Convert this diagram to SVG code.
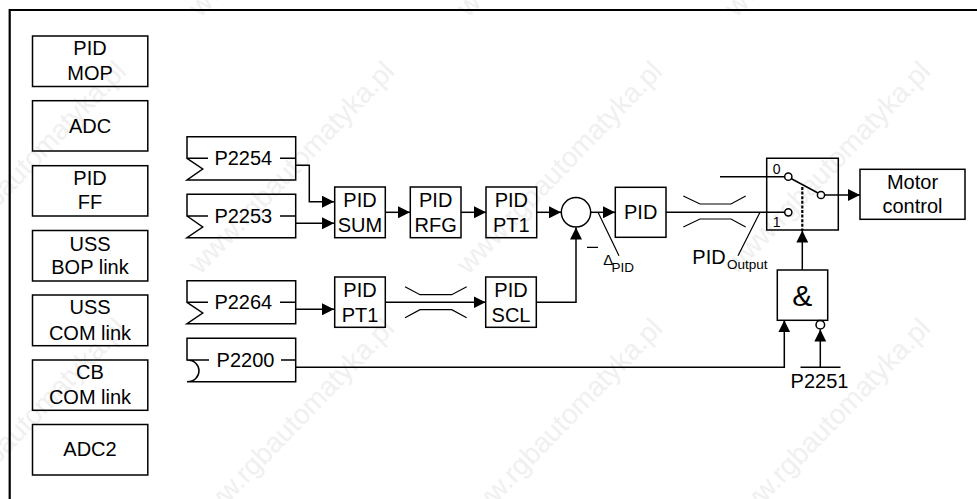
<svg xmlns="http://www.w3.org/2000/svg" width="977" height="499" viewBox="0 0 977 499">
<style>
text{font-family:"Liberation Sans",Arial,sans-serif;font-size:20px;fill:#000;text-anchor:middle}
.s{font-size:13.5px;text-anchor:start}
.n{font-size:14px}
.m{text-anchor:start}
.b{fill:none;stroke:#000;stroke-width:1.5}
.l{fill:none;stroke:#000;stroke-width:1.5}
.t{fill:none;stroke:#000;stroke-width:1.2}
.w{font-size:28px;fill:#f0f0f0}
</style>
<defs>
<marker id="a" markerWidth="13" markerHeight="12" refX="12" refY="6" orient="auto" markerUnits="userSpaceOnUse"><path d="M0 0L12 6L0 12Z" fill="#000"/></marker>
</defs>
<rect width="977" height="499" fill="#fff"/>
<g id="watermark">
<text class="w" transform="translate(30,174) rotate(-46)">www.rgbautomatyka.pl</text>
<text class="w" transform="translate(298,174) rotate(-46)">www.rgbautomatyka.pl</text>
<text class="w" transform="translate(566,174) rotate(-46)">www.rgbautomatyka.pl</text>
<text class="w" transform="translate(834,174) rotate(-46)">www.rgbautomatyka.pl</text>
<text class="w" transform="translate(30,431) rotate(-46)">www.rgbautomatyka.pl</text>
<text class="w" transform="translate(298,431) rotate(-46)">www.rgbautomatyka.pl</text>
<text class="w" transform="translate(566,431) rotate(-46)">www.rgbautomatyka.pl</text>
<text class="w" transform="translate(834,431) rotate(-46)">www.rgbautomatyka.pl</text>
<text class="w" transform="translate(298,-83) rotate(-46)">www.rgbautomatyka.pl</text>
<text class="w" transform="translate(566,-83) rotate(-46)">www.rgbautomatyka.pl</text>
<text class="w" transform="translate(834,-83) rotate(-46)">www.rgbautomatyka.pl</text>
</g>
<path id="frame" d="M9.7 499V10H977" fill="none" stroke="#000" stroke-width="2.2"/>
<g id="connectors">
<path class="l" d="M295.7 165.3H309.3V201.7H334" marker-end="url(#a)"/>
<path class="l" d="M295.7 223.3H334" marker-end="url(#a)"/>
<path class="l" d="M385.3 212.3H410" marker-end="url(#a)"/>
<path class="l" d="M461 212.3H486" marker-end="url(#a)"/>
<path class="l" d="M537 212.3H561" marker-end="url(#a)"/>
<path class="l" d="M591 212.3H615" marker-end="url(#a)"/>
<path class="l" d="M295.7 309.3H334" marker-end="url(#a)"/>
<path class="l" d="M385.3 302.3H485.5" marker-end="url(#a)"/>
<path class="l" d="M536.3 302.3H576V227.5" marker-end="url(#a)"/>
<path class="l" d="M666 212.3H784.5"/>
<path class="l" d="M720 176.7H784.5"/>
<path class="l" d="M825 195H860" marker-end="url(#a)"/>
<path class="l" d="M802.3 270V230.5" marker-end="url(#a)"/>
<path d="M802.3 187V231" fill="none" stroke="#000" stroke-width="2.2" stroke-dasharray="3 1.6"/>
<path class="l" d="M295.7 367.3H784.3V320.3" marker-end="url(#a)"/>
<path class="l" d="M820.3 367.3V329.5" marker-end="url(#a)"/>
<path class="l" d="M800.5 367.3H840.5"/>
<path class="t" d="M405 286.7L420 294.7H451.7L466.7 286.7M405 317.7L420 309.7H451.7L466.7 317.7"/>
<path class="t" d="M683.3 196L700 204H731L745.7 196M683.3 227L700 219H731L745.7 227"/>
<path class="t" d="M598 212.3L619 255.7M760 212.3L738 255.7M587 247.3H598"/>
</g>
<g id="n-mop"><rect class="b" x="32.5" y="36" width="115.3" height="50.5"/><text x="90" y="55">PID</text><text x="90" y="80">MOP</text></g>
<g id="n-adc"><rect class="b" x="32.5" y="100.7" width="115.3" height="50.3"/><text x="90" y="132.7">ADC</text></g>
<g id="n-ff"><rect class="b" x="32.5" y="165.7" width="115.3" height="50.3"/><text x="90" y="185">PID</text><text x="90" y="209">FF</text></g>
<g id="n-bop"><rect class="b" x="32.5" y="230.5" width="115.3" height="50.5"/><text x="90" y="250.7">USS</text><text x="90" y="274">BOP link</text></g>
<g id="n-uss"><rect class="b" x="32.5" y="295" width="115.3" height="50.7"/><text x="90" y="314.3">USS</text><text x="90" y="340">COM link</text></g>
<g id="n-cb"><rect class="b" x="32.5" y="360" width="115.3" height="50.3"/><text x="90" y="379">CB</text><text x="90" y="404">COM link</text></g>
<g id="n-adc2"><rect class="b" x="32.5" y="424.5" width="115.3" height="50.5"/><text x="90" y="455.7">ADC2</text></g>
<g id="n-p2254"><path class="l" d="M208 158.3H187V136.7H295.7V180H187L202.7 169L187 158.3M280 158.3H295.7"/><text x="243.3" y="165">P2254</text></g>
<g id="n-p2253"><path class="l" d="M208 216H187V194.3H295.7V237.7H187L202.7 227L187 216M280 216H295.7"/><text x="243.3" y="222.7">P2253</text></g>
<g id="n-p2264"><path class="l" d="M208 302.3H187V280.7H295.7V323.7H187L202.7 313L187 302.3M280 302.3H295.7"/><text x="243.3" y="309">P2264</text></g>
<g id="n-p2200"><path class="l" d="M209 360H187V338.3H295.7V381.7H187C195 381.7 199 376 199 370.8C199 365.5 195 360 187 360M281 360H295.7"/><text x="245.5" y="366.7">P2200</text></g>
<g id="n-sum"><rect class="b" x="334.7" y="187" width="50.6" height="50.7"/><text x="360" y="207">PID</text><text x="360" y="231.7">SUM</text></g>
<g id="n-rfg"><rect class="b" x="410.3" y="187" width="50.7" height="50.7"/><text x="435.7" y="207">PID</text><text x="435.7" y="231.7">RFG</text></g>
<g id="n-pt1a"><rect class="b" x="486" y="187" width="50.7" height="50.7"/><text x="511.3" y="207">PID</text><text x="511.3" y="231.7">PT1</text></g>
<g id="n-pt1b"><rect class="b" x="334.7" y="277" width="50.6" height="50.3"/><text x="360" y="296.5">PID</text><text x="360" y="321.5">PT1</text></g>
<g id="n-scl"><rect class="b" x="485.7" y="277" width="50.6" height="50.3"/><text x="511" y="296.5">PID</text><text x="511" y="321.5">SCL</text></g>
<g id="n-sum-circle"><circle class="b" cx="576" cy="212.3" r="14.7"/></g>
<g id="n-pid"><rect class="b" x="615.3" y="187.3" width="50.7" height="50"/><text x="640.7" y="219">PID</text></g>
<g id="n-switch"><path class="l" d="M766.7 158.3H838.3V230H766.7Z"/><path class="l" d="M791 178.5L818 193"/><circle class="b" cx="788.3" cy="176.7" r="3.6"/><circle class="b" cx="788.3" cy="212.3" r="3.6"/><circle class="b" cx="821" cy="195" r="3.6"/><text class="n" x="776.7" y="174">0</text><text class="n" x="776.7" y="226.7">1</text></g>
<g id="n-motor"><rect class="b" x="860" y="169.3" width="105" height="50"/><text x="912.5" y="189">Motor</text><text x="912.5" y="213.3">control</text></g>
<g id="n-and"><rect class="b" x="777.3" y="270" width="50.4" height="50.3"/><text x="802.3" y="305.5" style="font-size:30px">&amp;</text><circle class="b" cx="820.3" cy="324.7" r="4.3"/></g>
<g id="labels">
<text x="608.3" y="265" style="font-size:15px">Δ</text><text class="s" x="611.5" y="271.7">PID</text>
<text class="m" x="692.3" y="264">PID</text><text class="s" x="727" y="269">Output</text>
<text x="819.5" y="388">P2251</text>
</g>
</svg>
